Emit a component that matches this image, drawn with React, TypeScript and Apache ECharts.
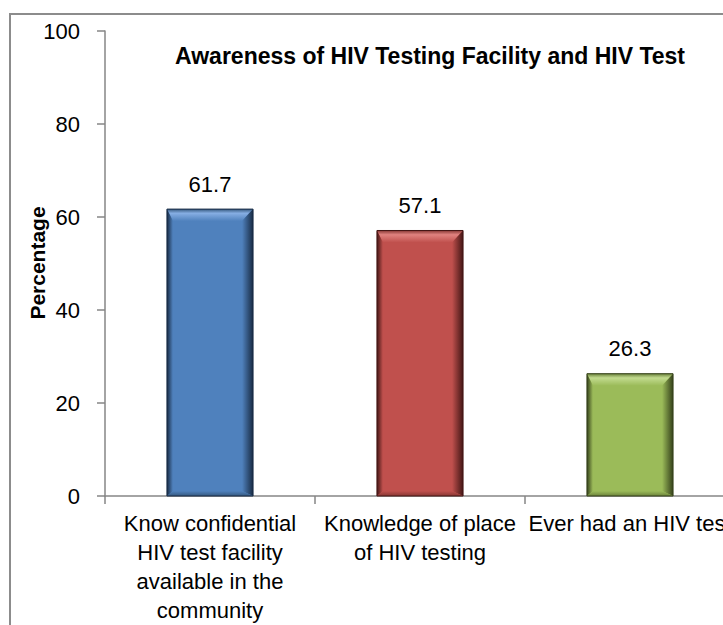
import React, { useEffect, useRef } from "react";
import * as echarts from "echarts";

const categories = [
  "Know confidential\nHIV test facility\navailable in the\ncommunity",
  "Knowledge of place\nof HIV testing",
  "Ever had an HIV test",
];
const values = [61.7, 57.1, 26.3];
const yTicks = { min: 0, max: 100, interval: 20 };
const titleText = "Awareness of HIV Testing Facility and HIV Test";
const yAxisName = "Percentage";

const palettes = [
  { main: "#4F81BD", light: "#86AEE3", dark: "#182B44", mid: "#36597F" },
  { main: "#C0504D", light: "#E0827F", dark: "#441615", mid: "#873734" },
  { main: "#9BBB59", light: "#C2DB8F", dark: "#35411B", mid: "#6C833C" },
];

const FONT = '"Liberation Sans", Arial, sans-serif';

export default function App() {
  const ref = useRef<HTMLDivElement>(null);
  useEffect(() => {
    if (!ref.current) return;
    const chart = echarts.init(ref.current, null, { renderer: "svg" });
    const LG = echarts.graphic.LinearGradient;
    chart.setOption({
      animation: false,
      backgroundColor: "#ffffff",
      graphic: [
        {
          type: "rect",
          shape: { x: 10, y: 14, width: 800, height: 700 },
          style: { fill: "none", stroke: "#8C8C8C", lineWidth: 2 },
          z: -1,
        },
        {
          type: "text",
          x: 430,
          y: 56,
          style: {
            text: titleText,
            align: "center",
            verticalAlign: "middle",
            fontFamily: FONT,
            fontWeight: "bold",
            fontSize: 23,
            fill: "#000",
          },
        },
        {
          type: "text",
          x: 37,
          y: 263,
          rotation: Math.PI / 2,
          style: {
            text: yAxisName,
            align: "center",
            verticalAlign: "middle",
            fontFamily: FONT,
            fontWeight: "bold",
            fontSize: 21,
            fill: "#000",
          },
        },
      ],
      grid: {
        left: 105,
        top: 31,
        width: 630,
        height: 465,
        containLabel: false,
        outerBoundsMode: "none",
      },
      xAxis: {
        type: "category",
        data: categories,
        axisLine: { show: true, lineStyle: { color: "#868686", width: 1.5 } },
        axisTick: { show: true, length: 8, lineStyle: { color: "#868686", width: 1.5 } },
        axisLabel: {
          interval: 0,
          margin: 13,
          fontFamily: FONT,
          fontSize: 22,
          lineHeight: 29,
          color: "#000",
          align: "center",
        },
        splitLine: { show: false },
      },
      yAxis: {
        type: "value",
        min: yTicks.min,
        max: yTicks.max,
        interval: yTicks.interval,
        axisLine: { show: true, lineStyle: { color: "#868686", width: 1.5 } },
        axisTick: { show: true, length: 8, lineStyle: { color: "#868686", width: 1.5 } },
        axisLabel: { margin: 25, fontFamily: FONT, fontSize: 22, color: "#000" },
        splitLine: { show: false },
      },
      series: [
        {
          type: "custom",
          data: values.map((v, i) => [i, v]),
          encode: { x: 0, y: 1 },
          renderItem: (params: any, api: any) => {
            const idx = api.value(0);
            const val = api.value(1);
            const top = api.coord([idx, val]);
            const base = api.coord([idx, 0]);
            const w = api.size([1, 0])[0] * 0.41;
            const x0 = top[0] - w / 2;
            const x1 = top[0] + w / 2;
            const y0 = top[1];
            const y1 = base[1];
            const p = palettes[idx % palettes.length];
            const bt = 12, bl = 6, br = 11, bb = 5;
            return {
              type: "group",
              children: [
                {
                  type: "rect",
                  shape: { x: x0, y: y0, width: x1 - x0, height: y1 - y0 },
                  style: { fill: p.main },
                },
                {
                  type: "polygon",
                  shape: { points: [[x0, y0], [x1, y0], [x1 - br, y0 + bt], [x0 + bl, y0 + bt]] },
                  style: {
                    fill: new LG(0, 0, 0, 1, [
                      { offset: 0, color: p.mid },
                      { offset: 0.35, color: p.light },
                      { offset: 1, color: p.main },
                    ]),
                  },
                },
                {
                  type: "polygon",
                  shape: { points: [[x0, y0], [x0 + bl, y0 + bt], [x0 + bl, y1 - bb], [x0, y1]] },
                  style: {
                    fill: new LG(0, 0, 1, 0, [
                      { offset: 0, color: p.dark },
                      { offset: 1, color: p.main },
                    ]),
                  },
                },
                {
                  type: "polygon",
                  shape: { points: [[x1, y0], [x1 - br, y0 + bt], [x1 - br, y1 - bb], [x1, y1]] },
                  style: {
                    fill: new LG(0, 0, 1, 0, [
                      { offset: 0, color: p.main },
                      { offset: 1, color: p.dark },
                    ]),
                  },
                },
                {
                  type: "polygon",
                  shape: { points: [[x0, y1], [x0 + bl, y1 - bb], [x1 - br, y1 - bb], [x1, y1]] },
                  style: {
                    fill: new LG(0, 0, 0, 1, [
                      { offset: 0, color: p.main },
                      { offset: 1, color: p.mid },
                    ]),
                  },
                },
                {
                  type: "rect",
                  shape: { x: x0, y: y0, width: x1 - x0, height: y1 - y0 },
                  style: { fill: "none", stroke: p.dark, lineWidth: 1 },
                },
                {
                  type: "text",
                  x: top[0],
                  y: y0 - 25,
                  style: {
                    text: String(val),
                    align: "center",
                    verticalAlign: "middle",
                    fontFamily: FONT,
                    fontSize: 22,
                    fill: "#000",
                  },
                },
              ],
            };
          },
        },
      ],
    });
    return () => chart.dispose();
  }, []);
  return (
    <div
      ref={ref}
      style={{ position: "fixed", left: 0, top: 0, width: 723, height: 625, background: "#fff" }}
    />
  );
}
